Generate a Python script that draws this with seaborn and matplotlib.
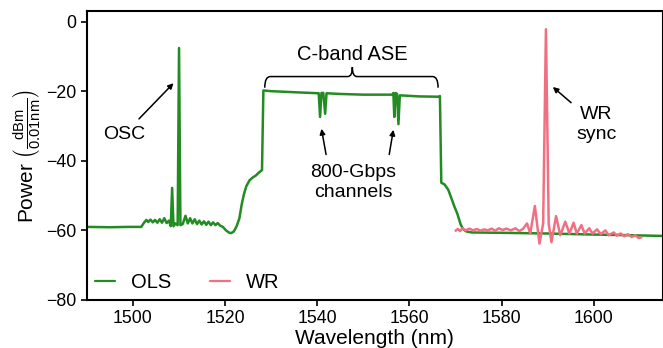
import numpy as np
import pandas as pd
import seaborn as sns
import matplotlib
matplotlib.use("Agg")
import matplotlib.pyplot as plt
from matplotlib.path import Path
from matplotlib.patches import PathPatch

# OLS spectrum
ols_wl = [1490.0, 1495.0, 1499.0, 1501.8, 1502.4, 1502.9, 1503.3, 1503.8, 1504.3, 1504.8,
          1505.3, 1505.8, 1506.3, 1506.8, 1507.3, 1507.8, 1508.2, 1508.5, 1508.8, 1509.2,
          1509.7, 1510.0, 1510.3, 1510.8, 1511.4, 1511.9, 1512.4, 1512.9, 1513.4, 1513.9,
          1514.4, 1514.9, 1515.4, 1515.9, 1516.4, 1516.9, 1517.4, 1517.9, 1518.4, 1518.9,
          1519.5, 1520.2, 1520.8, 1521.3, 1521.9, 1522.5, 1523.1, 1523.6, 1524.1, 1524.6,
          1525.3, 1526.0, 1526.7, 1527.3, 1528.0, 1528.3, 1530.0, 1535.0, 1540.3, 1540.6,
          1540.9, 1541.3, 1541.7, 1542.0, 1545.0, 1550.0, 1556.3, 1556.5, 1556.7, 1557.0,
          1557.3, 1557.6, 1557.9, 1562.0, 1566.3, 1566.6, 1566.9, 1567.6, 1568.4, 1569.1,
          1569.7, 1570.4, 1571.1, 1571.6, 1572.3, 1573.5, 1580.0, 1590.0, 1600.0, 1608.0,
          1615.0]
ols_pw = [-59.0, -59.1, -59.0, -59.0, -57.8, -57.0, -57.6, -56.9, -57.7, -57.0,
          -57.8, -56.8, -57.8, -56.5, -57.9, -57.2, -58.8, -47.8, -58.8, -58.0,
          -58.5, -7.6, -58.5, -58.2, -55.8, -58.0, -56.5, -58.0, -56.8, -58.2,
          -57.2, -58.3, -57.4, -58.4, -57.5, -58.5, -57.7, -58.5, -57.9, -58.6,
          -59.0, -60.0, -60.6, -60.8, -60.3, -58.8, -56.5, -52.5, -49.5, -47.3,
          -45.6, -44.8, -44.2, -43.4, -42.7, -19.8, -20.0, -20.3, -20.6, -27.4,
          -20.5, -20.5, -26.5, -20.6, -20.8, -21.0, -21.0, -20.5, -27.4, -20.5,
          -20.8, -29.5, -21.2, -21.5, -21.6, -21.4, -46.3, -46.8, -48.3, -50.8,
          -53.0, -55.3, -58.3, -59.6, -60.3, -60.6, -60.7, -60.9, -61.2, -61.4,
          -61.6]

# WR spectrum
wr_wl = [1570.0, 1570.5, 1571.0, 1571.5, 1572.2, 1573.0, 1573.8, 1574.6, 1575.4, 1576.2,
         1577.0, 1577.8, 1578.6, 1579.4, 1580.2, 1581.0, 1582.0, 1583.0, 1583.8, 1584.6,
         1585.5, 1586.2, 1587.2, 1588.2, 1589.0, 1589.3, 1589.6, 1589.9, 1590.2, 1590.8,
         1591.8, 1592.7, 1593.8, 1594.7, 1595.6, 1596.3, 1597.3, 1598.0, 1599.0, 1599.7,
         1600.7, 1601.5, 1602.5, 1603.2, 1604.3, 1605.0, 1605.8, 1606.6, 1607.4, 1608.2,
         1609.0, 1609.7, 1610.3]
wr_pw = [-60.1, -59.6, -60.2, -59.4, -60.0, -59.5, -60.0, -59.6, -60.1, -59.7,
         -60.0, -59.5, -60.1, -59.4, -59.9, -59.5, -60.0, -59.4, -60.2, -59.6,
         -58.0, -60.9, -53.0, -63.8, -58.0, -30.0, -2.2, -30.0, -58.0, -63.4,
         -55.9, -61.4, -57.5, -60.9, -57.8, -60.9, -58.5, -60.9, -59.4, -60.9,
         -59.7, -61.1, -60.0, -61.4, -60.6, -61.5, -60.9, -61.7, -61.1, -61.9,
         -61.4, -62.2, -62.0]

df = pd.concat([
    pd.DataFrame({"wl": ols_wl, "pw": ols_pw, "src": "OLS"}),
    pd.DataFrame({"wl": wr_wl, "pw": wr_pw, "src": "WR"}),
], ignore_index=True)

sns.set_style("ticks")
plt.rcParams['font.family'] = ['Liberation Sans', 'DejaVu Sans']
plt.rcParams['mathtext.fontset'] = 'custom'
plt.rcParams['mathtext.rm'] = 'Liberation Sans'
plt.rcParams['mathtext.it'] = 'Liberation Sans:italic'
for k in ['text.color', 'axes.labelcolor', 'xtick.color', 'ytick.color']:
    plt.rcParams[k] = 'black'

fig = plt.figure(figsize=(6.63, 3.48), dpi=100)
ax = fig.add_axes([0.131, 0.138, 0.869, 0.830])

palette = {"OLS": "#228b22", "WR": "#f07082"}
sns.lineplot(data=df, x="wl", y="pw", hue="src", palette=palette, estimator=None,
             sort=False, lw=1.8, ax=ax)

ax.set_xlim(1490, 1615)
ax.set_ylim(-80, 3)
ax.set_xticks([1500, 1520, 1540, 1560, 1580, 1600])
ax.set_yticks([0, -20, -40, -60, -80])
ax.tick_params(labelsize=12.8, length=4, width=1.2)
for s in ax.spines.values():
    s.set_linewidth(1.5)
    s.set_color('black')
ax.set_xlabel("Wavelength (nm)", fontsize=15, labelpad=1)
ax.set_ylabel(r"Power $\left(\frac{\mathrm{dBm}}{0.01\mathrm{nm}}\right)$", fontsize=15, labelpad=2)

leg = ax.legend(loc='lower left', ncol=2, frameon=False, fontsize=14.5,
                handlelength=1.0, handletextpad=0.8, columnspacing=1.9,
                borderaxespad=0.0)
for h in leg.get_lines():
    h.set_linewidth(1.6)

arrow = dict(arrowstyle='-|>', color='black', lw=1.1, mutation_scale=8)
ax.annotate("OSC", xy=(1508.8, -17.7), xytext=(1498.0, -32.5), fontsize=14,
            ha='center', va='center', arrowprops=dict(arrow, shrinkA=4, shrinkB=0))
ax.text(1547.5, -9.6, "C-band ASE", fontsize=14.5, ha='center', va='center')
ax.text(1547.8, -46.3, "800-Gbps\nchannels", fontsize=14, ha='center', va='center',
        linespacing=1.2)
ax.annotate("", xy=(1540.9, -30.8), xytext=(1541.9, -38.2),
            arrowprops=dict(arrow, shrinkA=0, shrinkB=0))
ax.annotate("", xy=(1556.5, -31.1), xytext=(1555.6, -38.2),
            arrowprops=dict(arrow, shrinkA=0, shrinkB=0))
ax.annotate("WR\nsync", xy=(1591.1, -18.8), xytext=(1600.6, -29.6), fontsize=14,
            ha='center', va='center', linespacing=1.2,
            arrowprops=dict(arrow, shrinkA=2, shrinkB=0))

# curly brace over the C-band
bl, br, bm = 1528.6, 1566.2, 1547.6
yb, yl, yt = -19.0, -15.8, -13.1
verts = [(bl, yb), (bl, yl), (bl + 1.2, yl),
         (bm - 1.0, yl), (bm, yl), (bm, yt),
         (bm, yl), (bm + 1.0, yl),
         (br - 1.2, yl), (br, yl), (br, yb)]
codes = [Path.MOVETO, Path.CURVE3, Path.CURVE3,
         Path.LINETO, Path.CURVE3, Path.CURVE3,
         Path.CURVE3, Path.CURVE3,
         Path.LINETO, Path.CURVE3, Path.CURVE3]
ax.add_patch(PathPatch(Path(verts, codes), fill=False, lw=1.1, color='black'))

fig.savefig("out.png", dpi=100)
